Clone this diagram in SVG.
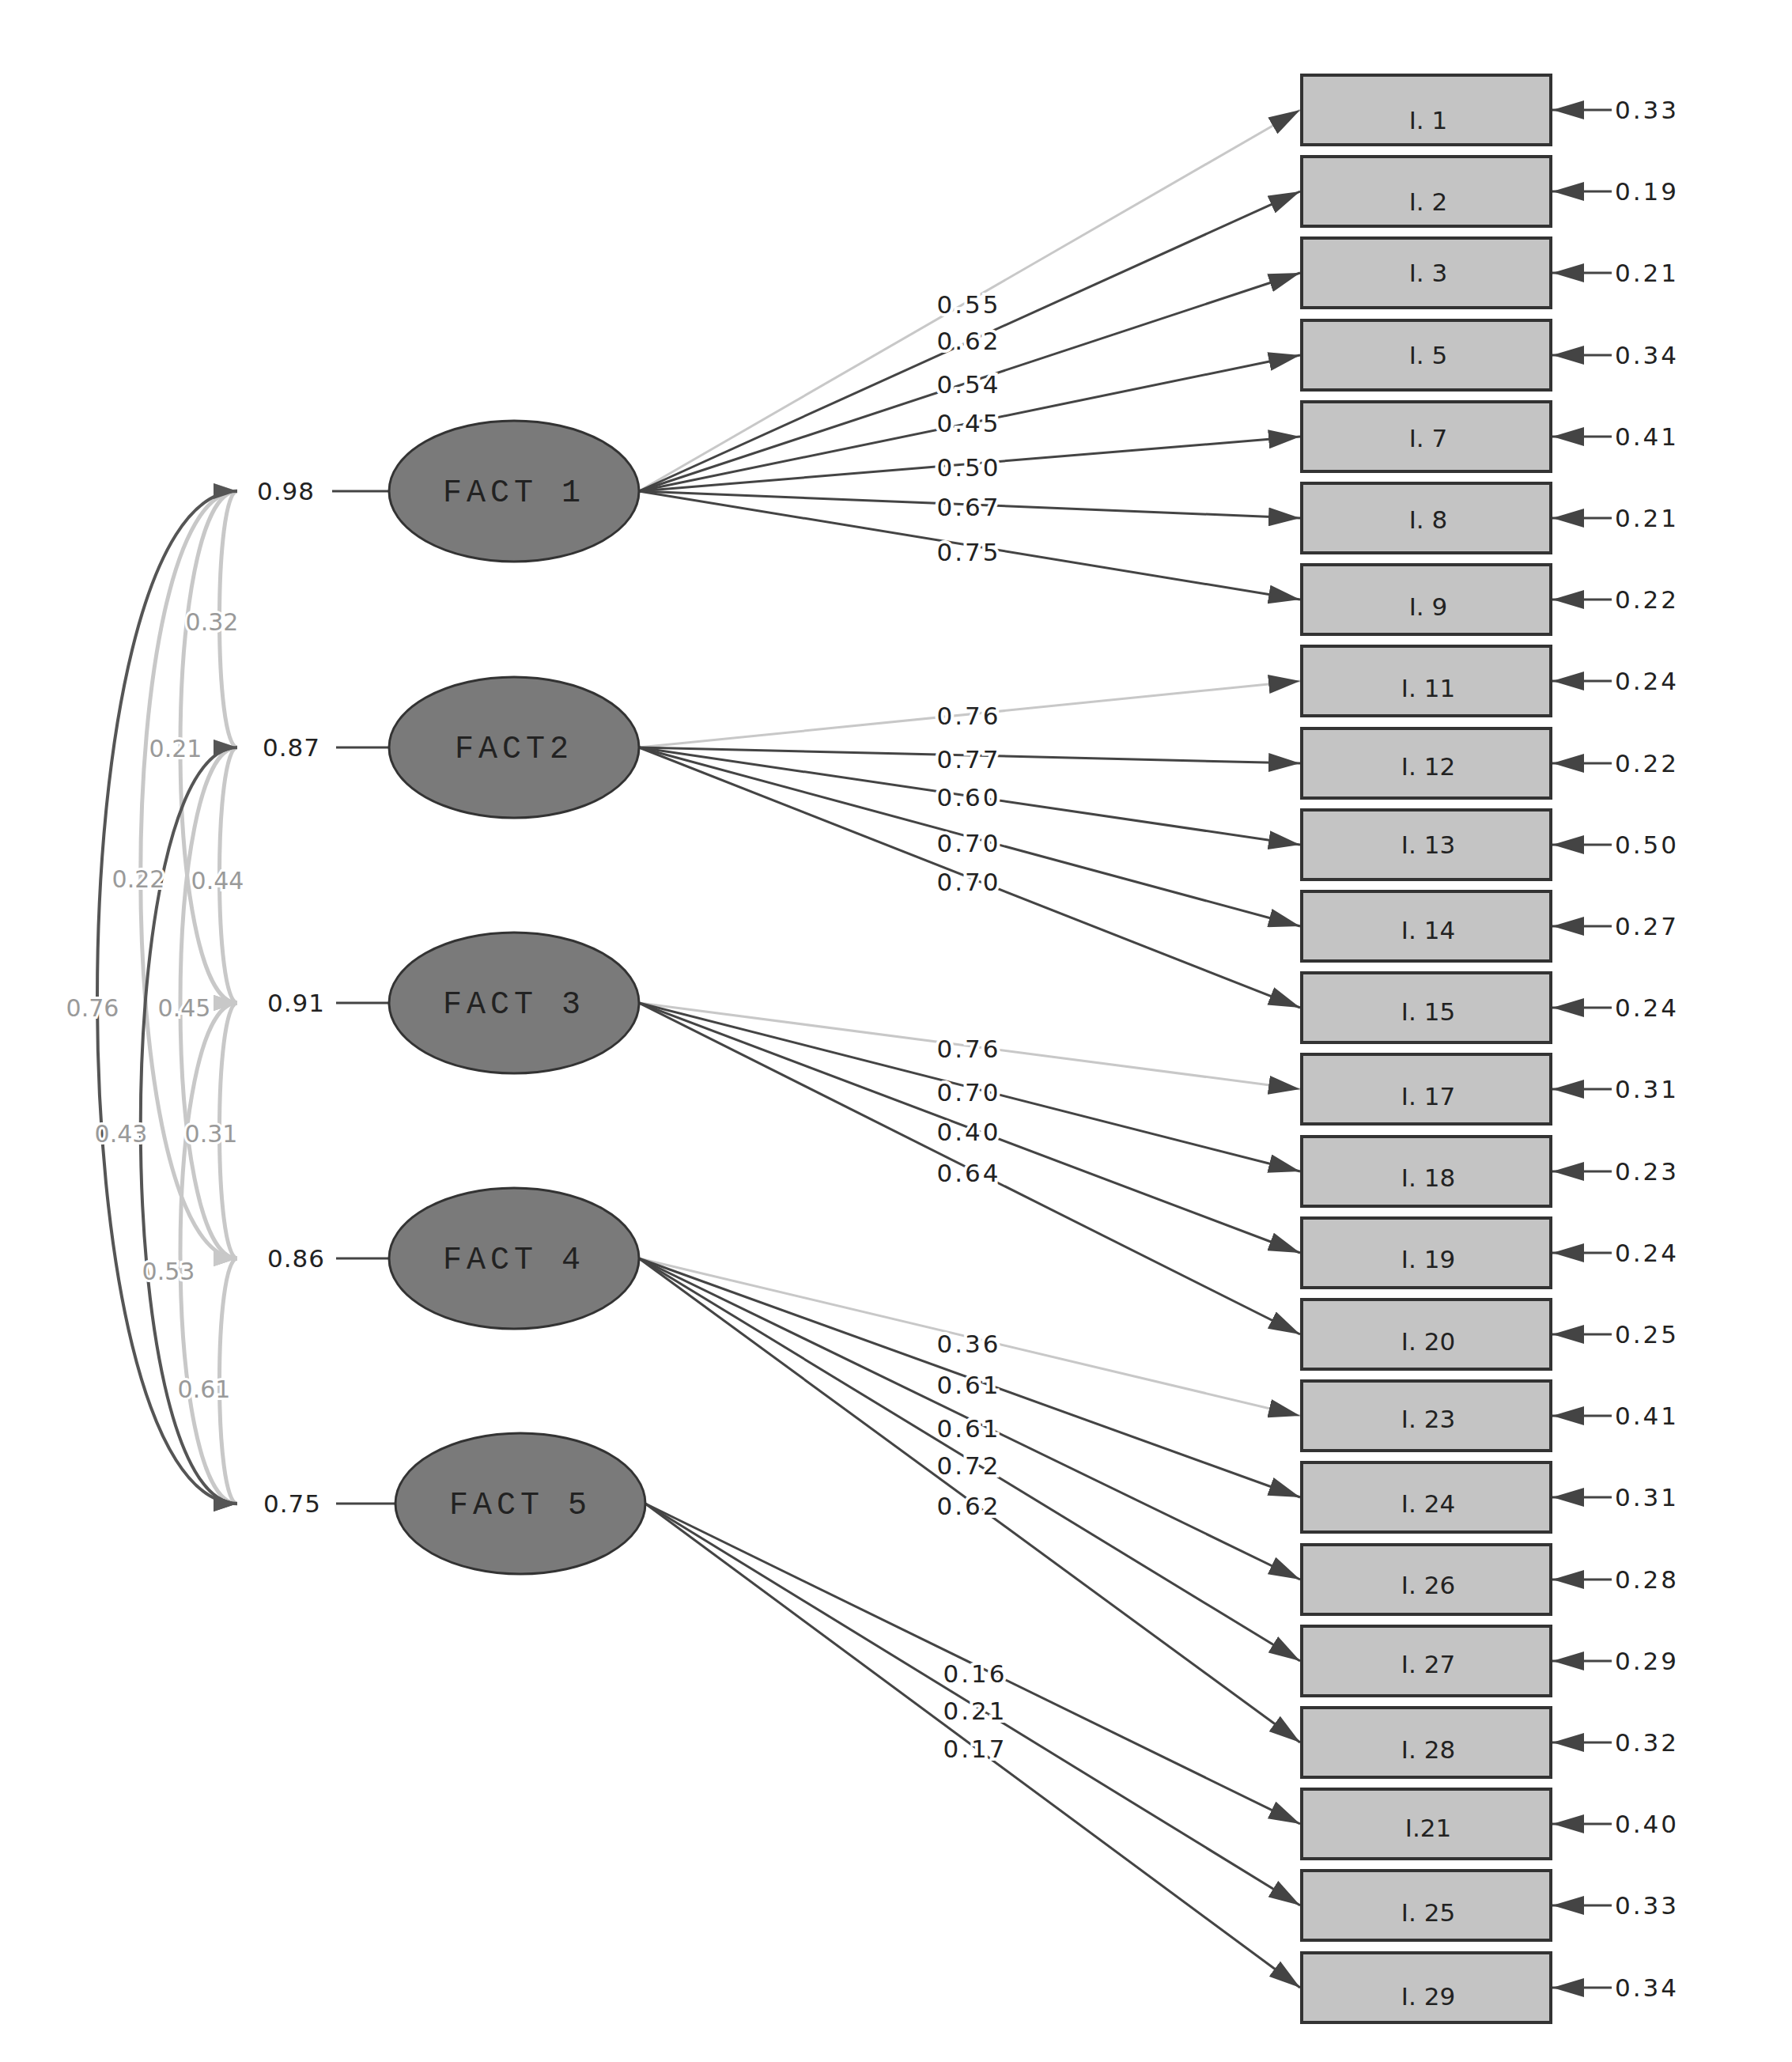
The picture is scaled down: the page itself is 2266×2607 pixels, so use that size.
<svg xmlns="http://www.w3.org/2000/svg" width="2266" height="2607" viewBox="0 0 2266 2607">
<style>
.bg{fill:#fff}
.box{fill:#c4c4c4;stroke:#333;stroke-width:4}
.ell{fill:#7a7a7a;stroke:#333;stroke-width:3}
.ft{font-family:"Liberation Mono",monospace;font-size:40px;letter-spacing:6px;fill:#222;text-anchor:middle}
.bt{font-family:"DejaVu Sans",sans-serif;font-size:31px;fill:#222;text-anchor:middle}
.num{font-family:"DejaVu Sans",sans-serif;font-size:31px;letter-spacing:3px;fill:#222;text-anchor:middle;stroke:#fff;stroke-width:8px;paint-order:stroke}
.err{font-family:"DejaVu Sans",sans-serif;font-size:31px;letter-spacing:3px;fill:#222}
.cv{font-family:"DejaVu Sans",sans-serif;font-size:30px;fill:#9a9a9a;text-anchor:middle;stroke:#fff;stroke-width:6px;paint-order:stroke}
.dk{stroke:#444;stroke-width:3;fill:none;marker-end:url(#ad)}
.lt{stroke:#c8c8c8;stroke-width:3;fill:none;marker-end:url(#al)}
.ln{stroke:#444;stroke-width:3;fill:none}
.cd{stroke:#555;stroke-width:4;fill:none;marker-start:url(#cd);marker-end:url(#cd)}
.cl{stroke:#c8c8c8;stroke-width:5;fill:none;marker-start:url(#cl);marker-end:url(#cl)}
</style>
<defs>
<marker id="ad" markerWidth="12" markerHeight="10" refX="12" refY="5" orient="auto" markerUnits="userSpaceOnUse" viewBox="0 0 12 10"><path d="M0,0L12,5L0,10z" fill="#444"/></marker>
<marker id="ad2" viewBox="0 0 40 24" refX="40" refY="12" markerWidth="40" markerHeight="24" orient="auto" markerUnits="userSpaceOnUse"><path d="M0,0L40,12L0,24z" fill="#444"/></marker>
<marker id="al" viewBox="0 0 12 10" refX="12" refY="5" markerWidth="12" markerHeight="10" orient="auto" markerUnits="userSpaceOnUse"><path d="M0,0L12,5L0,10z" fill="#c8c8c8"/></marker>
<marker id="cd" viewBox="0 0 30 20" refX="30" refY="10" markerWidth="30" markerHeight="20" orient="auto-start-reverse" markerUnits="userSpaceOnUse"><path d="M0,0L30,10L0,20z" fill="#555"/></marker>
<marker id="cl" viewBox="0 0 30 20" refX="30" refY="10" markerWidth="30" markerHeight="20" orient="auto-start-reverse" markerUnits="userSpaceOnUse"><path d="M0,0L30,10L0,20z" fill="#c8c8c8"/></marker>
</defs>
<rect class="bg" width="2266" height="2607"/>
<g id="connectors">
<!-- covariances -->
<path class="cl" d="M300,621 C270,621 270,945 300,945"/>
<path class="cl" d="M300,945 C270,945 270,1268 300,1268"/>
<path class="cl" d="M300,1268 C270,1268 270,1591 300,1591"/>
<path class="cl" d="M300,1591 C270,1591 270,1901 300,1901"/>
<path class="cl" d="M300,621 C204,621 204,1268 300,1268"/>
<path class="cl" d="M300,945 C204,945 204,1591 300,1591"/>
<path class="cl" d="M300,1268 C204,1268 204,1901 300,1901"/>
<path class="cl" d="M300,621 C137,621 137,1591 300,1591"/>
<path class="cd" d="M300,945 C137,945 137,1901 300,1901"/>
<path class="cd" d="M300,621 C64,621 64,1901 300,1901"/>
<!-- variance lines -->
<path class="ln" d="M420,621H492M425,945H492M425,1268H492M425,1591H492M425,1901H500"/>
<!-- loadings -->
<path class="lt" style="marker-end:url(#ad2)" d="M808,621L1644,139"/>
<path class="dk" style="marker-end:url(#ad2)" d="M808,621L1644,242"/>
<path class="dk" style="marker-end:url(#ad2)" d="M808,621L1644,345"/>
<path class="dk" style="marker-end:url(#ad2)" d="M808,621L1644,449"/>
<path class="dk" style="marker-end:url(#ad2)" d="M808,621L1644,552"/>
<path class="dk" style="marker-end:url(#ad2)" d="M808,621L1644,655"/>
<path class="dk" style="marker-end:url(#ad2)" d="M808,621L1644,758"/>
<path class="lt" style="marker-end:url(#ad2)" d="M808,945L1644,861"/>
<path class="dk" style="marker-end:url(#ad2)" d="M808,945L1644,965"/>
<path class="dk" style="marker-end:url(#ad2)" d="M808,945L1644,1068"/>
<path class="dk" style="marker-end:url(#ad2)" d="M808,945L1644,1171"/>
<path class="dk" style="marker-end:url(#ad2)" d="M808,945L1644,1274"/>
<path class="lt" style="marker-end:url(#ad2)" d="M808,1268L1644,1377"/>
<path class="dk" style="marker-end:url(#ad2)" d="M808,1268L1644,1481"/>
<path class="dk" style="marker-end:url(#ad2)" d="M808,1268L1644,1584"/>
<path class="dk" style="marker-end:url(#ad2)" d="M808,1268L1644,1687"/>
<path class="lt" style="marker-end:url(#ad2)" d="M808,1591L1644,1790"/>
<path class="dk" style="marker-end:url(#ad2)" d="M808,1591L1644,1893"/>
<path class="dk" style="marker-end:url(#ad2)" d="M808,1591L1644,1997"/>
<path class="dk" style="marker-end:url(#ad2)" d="M808,1591L1644,2100"/>
<path class="dk" style="marker-end:url(#ad2)" d="M808,1591L1644,2203"/>
<path class="dk" style="marker-end:url(#ad2)" d="M816,1901L1644,2306"/>
<path class="dk" style="marker-end:url(#ad2)" d="M816,1901L1644,2409"/>
<path class="dk" style="marker-end:url(#ad2)" d="M816,1901L1644,2513"/>
<!-- error arrows -->
<g style="marker-end:url(#ad2)" class="dk">
<path d="M2038,139H1963"/><path d="M2038,242H1963"/><path d="M2038,345H1963"/><path d="M2038,449H1963"/><path d="M2038,552H1963"/><path d="M2038,655H1963"/><path d="M2038,758H1963"/><path d="M2038,861H1963"/><path d="M2038,965H1963"/><path d="M2038,1068H1963"/><path d="M2038,1171H1963"/><path d="M2038,1274H1963"/><path d="M2038,1377H1963"/><path d="M2038,1481H1963"/><path d="M2038,1584H1963"/><path d="M2038,1687H1963"/><path d="M2038,1790H1963"/><path d="M2038,1893H1963"/><path d="M2038,1997H1963"/><path d="M2038,2100H1963"/><path d="M2038,2203H1963"/><path d="M2038,2306H1963"/><path d="M2038,2409H1963"/><path d="M2038,2513H1963"/>
</g>
<!-- covariance labels -->
<text class="cv" x="268" y="797">0.32</text>
<text class="cv" x="222" y="957">0.21</text>
<text class="cv" x="175" y="1122">0.22</text>
<text class="cv" x="275" y="1124">0.44</text>
<text class="cv" x="117" y="1285">0.76</text>
<text class="cv" x="233" y="1285">0.45</text>
<text class="cv" x="153" y="1444">0.43</text>
<text class="cv" x="267" y="1444">0.31</text>
<text class="cv" x="213" y="1618">0.53</text>
<text class="cv" x="258" y="1767">0.61</text>
<!-- loading labels -->
<g class="num">
<text x="1225" y="396">0.55</text><text x="1225" y="442">0.62</text><text x="1225" y="497">0.54</text><text x="1225" y="546">0.45</text><text x="1225" y="602">0.50</text><text x="1225" y="652">0.67</text><text x="1225" y="709">0.75</text>
<text x="1225" y="916">0.76</text><text x="1225" y="971">0.77</text><text x="1225" y="1019">0.60</text><text x="1225" y="1077">0.70</text><text x="1225" y="1126">0.70</text>
<text x="1225" y="1337">0.76</text><text x="1225" y="1392">0.70</text><text x="1225" y="1442">0.40</text><text x="1225" y="1494">0.64</text>
<text x="1225" y="1710">0.36</text><text x="1225" y="1762">0.61</text><text x="1225" y="1817">0.61</text><text x="1225" y="1864">0.72</text><text x="1225" y="1915">0.62</text>
<text x="1233" y="2127">0.16</text><text x="1233" y="2174">0.21</text><text x="1233" y="2222">0.17</text>
</g>
</g>
<g class="err">
<text x="2042" y="150">0.33</text><text x="2042" y="253">0.19</text><text x="2042" y="356">0.21</text><text x="2042" y="460">0.34</text><text x="2042" y="563">0.41</text><text x="2042" y="666">0.21</text><text x="2042" y="769">0.22</text><text x="2042" y="872">0.24</text><text x="2042" y="976">0.22</text><text x="2042" y="1079">0.50</text><text x="2042" y="1182">0.27</text><text x="2042" y="1285">0.24</text><text x="2042" y="1388">0.31</text><text x="2042" y="1492">0.23</text><text x="2042" y="1595">0.24</text><text x="2042" y="1698">0.25</text><text x="2042" y="1801">0.41</text><text x="2042" y="1904">0.31</text><text x="2042" y="2008">0.28</text><text x="2042" y="2111">0.29</text><text x="2042" y="2214">0.32</text><text x="2042" y="2317">0.40</text><text x="2042" y="2420">0.33</text><text x="2042" y="2524">0.34</text>
</g>
<g class="err" style="letter-spacing:1px">
<text x="325" y="632">0.98</text><text x="332" y="956">0.87</text><text x="338" y="1279">0.91</text><text x="338" y="1602">0.86</text><text x="333" y="1912">0.75</text>
</g>
<g id="FACT1"><ellipse class="ell" cx="650" cy="621" rx="158" ry="89"/><text class="ft" x="650" y="634">FACT 1</text></g>
<g id="FACT2"><ellipse class="ell" cx="650" cy="945" rx="158" ry="89"/><text class="ft" x="650" y="958">FACT2</text></g>
<g id="FACT3"><ellipse class="ell" cx="650" cy="1268" rx="158" ry="89"/><text class="ft" x="650" y="1281">FACT 3</text></g>
<g id="FACT4"><ellipse class="ell" cx="650" cy="1591" rx="158" ry="89"/><text class="ft" x="650" y="1604">FACT 4</text></g>
<g id="FACT5"><ellipse class="ell" cx="658" cy="1901" rx="158" ry="89"/><text class="ft" x="658" y="1914">FACT 5</text></g>
<g id="I1"><rect class="box" x="1646" y="95" width="315" height="88"/><text class="bt" x="1806" y="163">I. 1</text></g>
<g id="I2"><rect class="box" x="1646" y="198" width="315" height="88"/><text class="bt" x="1806" y="266">I. 2</text></g>
<g id="I3"><rect class="box" x="1646" y="301" width="315" height="88"/><text class="bt" x="1806" y="356">I. 3</text></g>
<g id="I5"><rect class="box" x="1646" y="405" width="315" height="88"/><text class="bt" x="1806" y="460">I. 5</text></g>
<g id="I7"><rect class="box" x="1646" y="508" width="315" height="88"/><text class="bt" x="1806" y="565">I. 7</text></g>
<g id="I8"><rect class="box" x="1646" y="611" width="315" height="88"/><text class="bt" x="1806" y="668">I. 8</text></g>
<g id="I9"><rect class="box" x="1646" y="714" width="315" height="88"/><text class="bt" x="1806" y="778">I. 9</text></g>
<g id="I11"><rect class="box" x="1646" y="817" width="315" height="88"/><text class="bt" x="1806" y="881">I. 11</text></g>
<g id="I12"><rect class="box" x="1646" y="921" width="315" height="88"/><text class="bt" x="1806" y="980">I. 12</text></g>
<g id="I13"><rect class="box" x="1646" y="1024" width="315" height="88"/><text class="bt" x="1806" y="1079">I. 13</text></g>
<g id="I14"><rect class="box" x="1646" y="1127" width="315" height="88"/><text class="bt" x="1806" y="1187">I. 14</text></g>
<g id="I15"><rect class="box" x="1646" y="1230" width="315" height="88"/><text class="bt" x="1806" y="1290">I. 15</text></g>
<g id="I17"><rect class="box" x="1646" y="1333" width="315" height="88"/><text class="bt" x="1806" y="1397">I. 17</text></g>
<g id="I18"><rect class="box" x="1646" y="1437" width="315" height="88"/><text class="bt" x="1806" y="1500">I. 18</text></g>
<g id="I19"><rect class="box" x="1646" y="1540" width="315" height="88"/><text class="bt" x="1806" y="1603">I. 19</text></g>
<g id="I20"><rect class="box" x="1646" y="1643" width="315" height="88"/><text class="bt" x="1806" y="1707">I. 20</text></g>
<g id="I23"><rect class="box" x="1646" y="1746" width="315" height="88"/><text class="bt" x="1806" y="1805">I. 23</text></g>
<g id="I24"><rect class="box" x="1646" y="1849" width="315" height="88"/><text class="bt" x="1806" y="1912">I. 24</text></g>
<g id="I26"><rect class="box" x="1646" y="1953" width="315" height="88"/><text class="bt" x="1806" y="2015">I. 26</text></g>
<g id="I27"><rect class="box" x="1646" y="2056" width="315" height="88"/><text class="bt" x="1806" y="2115">I. 27</text></g>
<g id="I28"><rect class="box" x="1646" y="2159" width="315" height="88"/><text class="bt" x="1806" y="2223">I. 28</text></g>
<g id="I21"><rect class="box" x="1646" y="2262" width="315" height="88"/><text class="bt" x="1806" y="2322">I.21</text></g>
<g id="I25"><rect class="box" x="1646" y="2365" width="315" height="88"/><text class="bt" x="1806" y="2429">I. 25</text></g>
<g id="I29"><rect class="box" x="1646" y="2469" width="315" height="88"/><text class="bt" x="1806" y="2535">I. 29</text></g>
</svg>
